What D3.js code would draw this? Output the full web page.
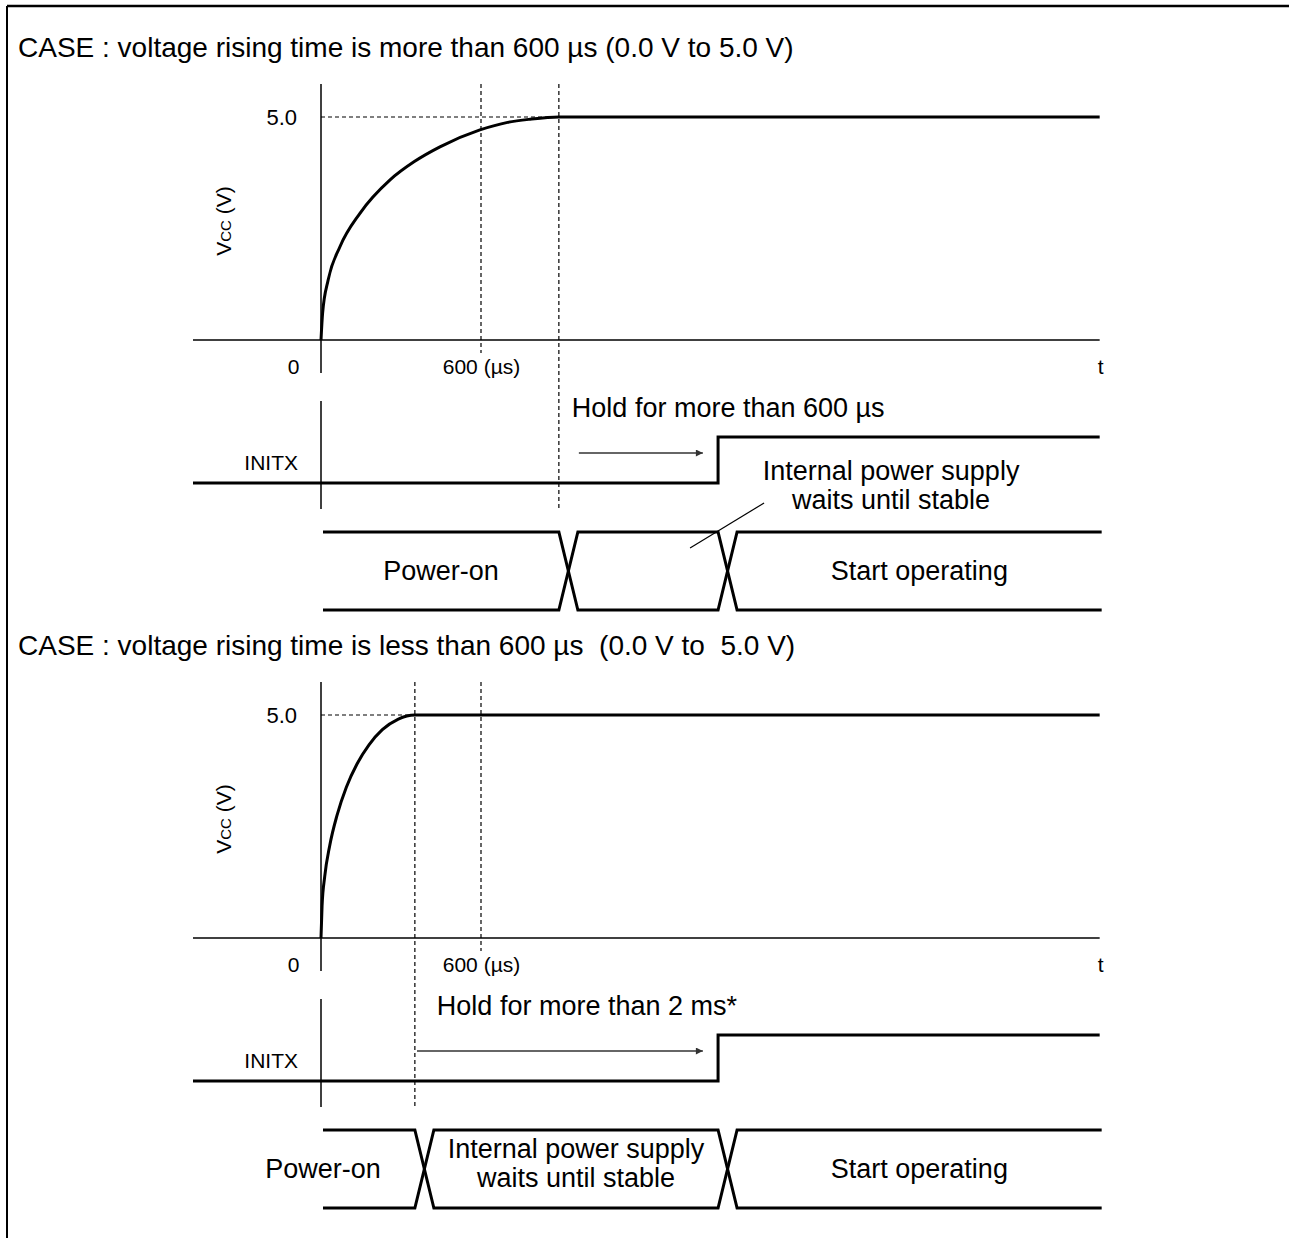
<html>
<head>
<script src="https://cdn.jsdelivr.net/npm/d3@7"></script>
</head>
<body style="margin:0; padding:0; background:#fff;">
<script>
// two power-on cases, time in microseconds, Vcc in volts
var caseTitles = ["CASE : voltage rising time is more than 600 \u00b5s (0.0 V to 5.0 V)",
                  "CASE : voltage rising time is less than 600 \u00b5s  (0.0 V to  5.0 V)"];

// Vcc curves
var vccTimeA = [0, 6, 27, 71, 146, 259, 350, 446, 596, 700, 784, 892, 2920];
var vccValA  = [0, 0.6, 1.35, 2.09, 2.84, 3.59, 4.0, 4.33, 4.71, 4.88, 4.95, 5, 5];
var vccTimeB = [0, 4, 14, 33, 60, 95, 135, 180, 230, 290, 352, 2920];
var vccValB  = [0, 0.72, 1.38, 2.08, 2.75, 3.38, 3.9, 4.33, 4.67, 4.91, 5, 5];

var settleTime = [892, 352];      // Vcc reaches 5.0 V
var initxRise  = [1489, 1489];    // INITX released
var arrowFrom  = [967, 360];
var arrowTo    = [1432, 1432];

var xTicks = [0, 600];
var xTickLabels = ["0", "600 (\u00b5s)"];
var yTicks = [5];
var tEnd = 2920;

var holdLabels = ["Hold for more than 600 \u00b5s", "Hold for more than 2 ms*"];
var busLabels = [["Power-on", "", "Start operating"],
                 ["Power-on", "Internal power supply|waits until stable", "Start operating"]];
var noteLabel = "Internal power supply|waits until stable";

var W = 1289, H = 1238;
var font = "'Liberation Sans', Arial, Helvetica, sans-serif";
var panelShift = [0, 598];
var holdDx = [13, 22];
var xW = 19; // width of a bus crossing

var svg = d3.select("body").append("svg")
    .attr("width", W).attr("height", H)
    .style("font-family", font);

// frame
svg.append("line").attr("x1", 7).attr("x2", W).attr("y1", 6).attr("y2", 6)
    .attr("stroke", "#000").attr("stroke-width", 2.5);
svg.append("line").attr("x1", 7).attr("x2", 7).attr("y1", 6).attr("y2", H)
    .attr("stroke", "#000").attr("stroke-width", 2);

var defs = svg.append("defs");
defs.append("marker").attr("id", "arr")
    .attr("viewBox", "0 0 10 10").attr("refX", 10).attr("refY", 5)
    .attr("markerWidth", 13).attr("markerHeight", 7).attr("markerUnits", "userSpaceOnUse")
    .attr("orient", "auto")
  .append("path").attr("d", "M0,0 L10,5 L0,10 Z").attr("fill", "#333");

var x = d3.scaleLinear().domain([0, 600]).range([321, 481]);
var lvl = d3.scaleLinear().domain([0, 1]).range([483, 437]);

function drawCase(i) {
    var g = svg.append("g").attr("transform", "translate(0," + panelShift[i] + ")");
    var y = d3.scaleLinear().domain([0, 5]).range([340, 117]);
    var times = i == 0 ? vccTimeA : vccTimeB;
    var vals = i == 0 ? vccValA : vccValB;
    var ts = settleTime[i];

    g.append("text").attr("x", 18).attr("y", 57).attr("font-size", 28)
        .style("white-space", "pre").text(caseTitles[i]);

    // axis lines
    g.append("line").attr("x1", x(0)).attr("x2", x(0)).attr("y1", 84).attr("y2", 373)
        .attr("stroke", "#000").attr("stroke-width", 1.5);
    g.append("line").attr("x1", 193).attr("x2", x(tEnd)).attr("y1", y(0)).attr("y2", y(0))
        .attr("stroke", "#000").attr("stroke-width", 1.5);

    var xa = g.append("g").attr("transform", "translate(0," + y(0) + ")")
        .call(d3.axisBottom(x).tickValues(xTicks).tickSize(0).tickPadding(19)
            .tickFormat(function (d, k) { return xTickLabels[k]; }));
    xa.select(".domain").remove();
    xa.attr("font-family", font).attr("font-size", 21);
    xa.selectAll("text").attr("fill", "#000")
        .attr("dx", function (d) { return d == 0 ? -28 : 0; });

    var ya = g.append("g").attr("transform", "translate(" + x(0) + ",0)")
        .call(d3.axisLeft(y).tickValues(yTicks).tickSize(0).tickPadding(24)
            .tickFormat(d3.format(".1f")));
    ya.select(".domain").remove();
    ya.attr("font-family", font).attr("font-size", 22);
    ya.selectAll("text").attr("fill", "#000");

    g.append("text").attr("x", x(tEnd) + 1).attr("y", 374).attr("font-size", 21)
        .attr("text-anchor", "middle").text("t");

    var vl = g.append("text").attr("transform", "translate(231,221) rotate(-90)")
        .attr("text-anchor", "middle").attr("font-size", 21);
    vl.append("tspan").text("V");
    vl.append("tspan").attr("font-size", 15).text("CC");
    vl.append("tspan").text(" (V)");

    // dashed guides
    var dash = { "stroke": "#000", "stroke-width": 1.2, "stroke-dasharray": "4,3", "fill": "none" };
    function dashed(x1, y1, x2, y2) {
        var l = g.append("line").attr("x1", x1).attr("y1", y1).attr("x2", x2).attr("y2", y2);
        for (var k in dash) l.attr(k, dash[k]);
    }
    dashed(x(0), y(5), x(ts), y(5));
    dashed(x(600), 84, x(600), 353);
    dashed(x(ts), 84, x(ts), 509);

    // Vcc curve
    var pts = times.map(function (t, k) { return [t, vals[k]]; });
    g.append("path").datum(pts)
        .attr("d", d3.line().x(function (d) { return x(d[0]); })
            .y(function (d) { return y(d[1]); }).curve(d3.curveMonotoneX))
        .attr("fill", "none").attr("stroke", "#000").attr("stroke-width", 3);

    // INITX
    g.append("line").attr("x1", x(0)).attr("x2", x(0)).attr("y1", 401).attr("y2", 509)
        .attr("stroke", "#000").attr("stroke-width", 1.5);
    g.append("text").attr("x", 298).attr("y", 470).attr("font-size", 21)
        .attr("text-anchor", "end").text("INITX");
    var sig = [[x.invert(193), 0], [initxRise[i], 1], [tEnd, 1]];
    g.append("path").datum(sig)
        .attr("d", d3.line().x(function (d) { return x(d[0]); })
            .y(function (d) { return lvl(d[1]); }).curve(d3.curveStepAfter))
        .attr("fill", "none").attr("stroke", "#000").attr("stroke-width", 3);

    g.append("line").attr("x1", x(arrowFrom[i])).attr("x2", x(arrowTo[i]))
        .attr("y1", 453).attr("y2", 453)
        .attr("stroke", "#333").attr("stroke-width", 1.5).attr("marker-end", "url(#arr)");
    g.append("text").attr("x", x(ts) + holdDx[i]).attr("y", 417).attr("font-size", 27)
        .text(holdLabels[i]);

    // state bus
    var bt = 532, bb = 610, bm = (bt + bb) / 2;
    var x0 = x(0) + 2, a1 = x(ts), a2 = x(initxRise[i]), xe = x(tEnd) + 2;
    var p1 = d3.path(), p2 = d3.path();
    p1.moveTo(x0, bt); p1.lineTo(a1, bt); p1.lineTo(a1 + xW, bb); p1.lineTo(a2, bb);
    p1.lineTo(a2 + xW, bt); p1.lineTo(xe, bt);
    p2.moveTo(x0, bb); p2.lineTo(a1, bb); p2.lineTo(a1 + xW, bt); p2.lineTo(a2, bt);
    p2.lineTo(a2 + xW, bb); p2.lineTo(xe, bb);
    [p1, p2].forEach(function (p) {
        g.append("path").attr("d", p.toString()).attr("fill", "none")
            .attr("stroke", "#000").attr("stroke-width", 3).attr("stroke-linejoin", "miter");
    });

    var segs = [[x0, a1], [a1 + xW, a2], [a2 + xW, xe]];
    busLabels[i].forEach(function (lab, k) {
        if (!lab) return;
        var lines = lab.split("|");
        var t = g.append("text").attr("font-size", 27).attr("text-anchor", "middle");
        lines.forEach(function (s, j) {
            t.append("tspan").attr("x", 0)
                .attr("y", lines.length == 1 ? bm + 9 : bm - 11 + j * 29).text(s);
        });
        var w = t.node().getBBox().width;
        var cx = (segs[k][0] + segs[k][1]) / 2;
        if (w + 10 > segs[k][1] - segs[k][0]) cx = segs[k][0];
        t.selectAll("tspan").attr("x", cx);
    });

    if (i == 0) {
        var nl = noteLabel.split("|");
        var nt = g.append("text").attr("font-size", 27).attr("text-anchor", "middle");
        nl.forEach(function (s, j) {
            nt.append("tspan").attr("x", a2 + 173).attr("y", 480 + j * 29).text(s);
        });
        g.append("line").attr("x1", a2 - 28).attr("y1", 548).attr("x2", a2 + 46).attr("y2", 503)
            .attr("stroke", "#000").attr("stroke-width", 1.2);
    }
}

[0, 1].forEach(drawCase);
</script>
</body>
</html>
